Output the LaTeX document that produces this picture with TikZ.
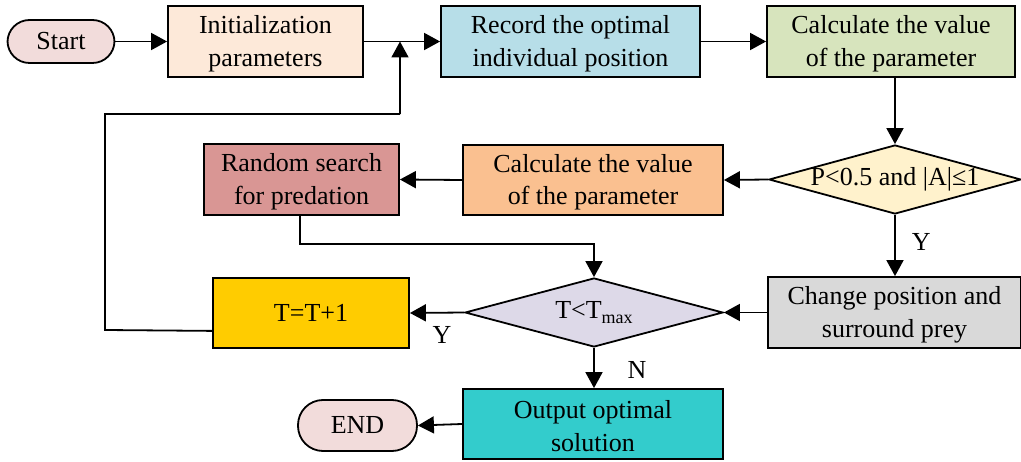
\documentclass[tikz,border=0pt]{standalone}
\usepackage{fontspec}
\setmainfont{Liberation Serif}
\usetikzlibrary{shapes.geometric,arrows.meta}

\definecolor{cPill}{HTML}{F2DCDB}
\definecolor{cInit}{HTML}{FDE9D9}
\definecolor{cRecord}{HTML}{B7DEE8}
\definecolor{cCalcA}{HTML}{D7E4BD}
\definecolor{cCond}{HTML}{FFF2CC}
\definecolor{cCalcB}{HTML}{FAC090}
\definecolor{cRand}{HTML}{D99694}
\definecolor{cChange}{HTML}{D9D9D9}
\definecolor{cLoop}{HTML}{DDD9E8}
\definecolor{cInc}{HTML}{FFCC00}
\definecolor{cOut}{HTML}{33CCCC}

\tikzset{
  base/.style={draw=black, line width=1.8pt, align=center, inner sep=0pt,
    font=\rmfamily\fontsize{26}{32.5}\selectfont},
  procbox/.style={base, rectangle, minimum width=#1},
  pill/.style={base, rectangle, rounded corners=22pt},
  decide/.style={base, diamond, minimum width=252pt, minimum height=69pt},
  flow/.style={line width=1.8pt, -{Triangle[length=16pt,width=17pt]}},
  plain/.style={line width=1.8pt},
  tag/.style={font=\rmfamily\fontsize{26}{32.5}\selectfont, inner sep=0pt}
}

\begin{document}
\begin{tikzpicture}[x=1pt, y=-1pt]
  \useasboundingbox (0,0) rectangle (1021,462);

  % top row
  \node[pill, fill=cPill, minimum width=107pt, minimum height=43pt] (start) at (61,41.5) {Start};
  \node[procbox=195pt, minimum height=71pt, fill=cInit] (init) at (265.5,41.5) {\strut Initialization\\parameters};
  \node[procbox=259pt, minimum height=71pt, fill=cRecord] (record) at (570.5,41.5) {\strut Record the optimal\\individual position};
  \node[procbox=248pt, minimum height=71pt, fill=cCalcA] (calcA) at (891,41.5) {\strut Calculate the value\\of the parameter};

  % middle row
  \node[decide, fill=cCond, minimum width=252pt,
        label={center:{\rmfamily\fontsize{26}{32.5}\selectfont P<0.5 and |A|≤1}}] (cond) at (895,179.5) {};
  \node[procbox=260pt, minimum height=70pt, fill=cCalcB] (calcB) at (593,180) {\strut Calculate the value\\of the parameter};
  \node[procbox=195pt, minimum height=71pt, fill=cRand] (rand) at (301.5,179.5) {\strut Random search\\for predation};

  % lower row
  \node[procbox=253pt, minimum height=71pt, fill=cChange] (change) at (894.5,312.5) {\strut Change position and\\surround prey};
  \node[decide, fill=cLoop, minimum width=258pt,
        label={center:{\rmfamily\fontsize{26}{32.5}\selectfont T<T\raisebox{-5pt}{\fontsize{18}{18}\selectfont max}}}] (loop) at (594,312.5) {};
  \node[procbox=196pt, minimum height=70pt, fill=cInc] (inc) at (311,313) {T=T+1};

  % bottom row
  \node[procbox=260pt, minimum height=70pt, fill=cOut] (out) at (593,424) {\strut Output optimal\\solution};
  \node[pill, fill=cPill, minimum width=119pt, minimum height=51pt, rounded corners=25pt] (end) at (357.5,425.5) {END};

  % routing points
  \coordinate (join) at (400,41.5);
  \coordinate (lpA) at (105,330);
  \coordinate (lpB) at (105,114);
  \coordinate (lpC) at (400,114);
  \coordinate (rbend) at (300,244);

  % connectors
  \draw[flow] (start) -- (init);
  \draw[flow] (init) -- (record);
  \draw[flow] (record) -- (calcA);
  \draw[flow] (calcA.south -| cond.north) -- (cond.north);
  \draw[flow] (cond.west) -- (calcB.east);
  \draw[flow] (calcB.west) -- (rand.east);
  \draw[plain] (rand.south -| rbend) -- (rbend) -| ([yshift=16pt]loop.north);
  \draw[flow] ([yshift=16pt]loop.north) -- (loop.north);
  \draw[flow] (cond.south) -- node[tag, right=16pt, pos=0.45] (ycond) {Y} (change.north -| cond.south);
  \draw[flow] (change.west) -- (loop.east);
  \draw[flow] (loop.west) -- (inc.east);
  \node[tag] (yloop) at (442,335) {Y};
  \draw[flow] (loop.south) -- (out.north -| loop.south);
  \node[tag] (nloop) at (637,370) {N};
  \draw[flow] (out.west) -- (end.east);
  \draw[plain] ([yshift=18pt]inc.south west) -- (lpA) -- (lpB) -- (lpC);
  \draw[flow] (lpC) -- (join);
\end{tikzpicture}
\end{document}
